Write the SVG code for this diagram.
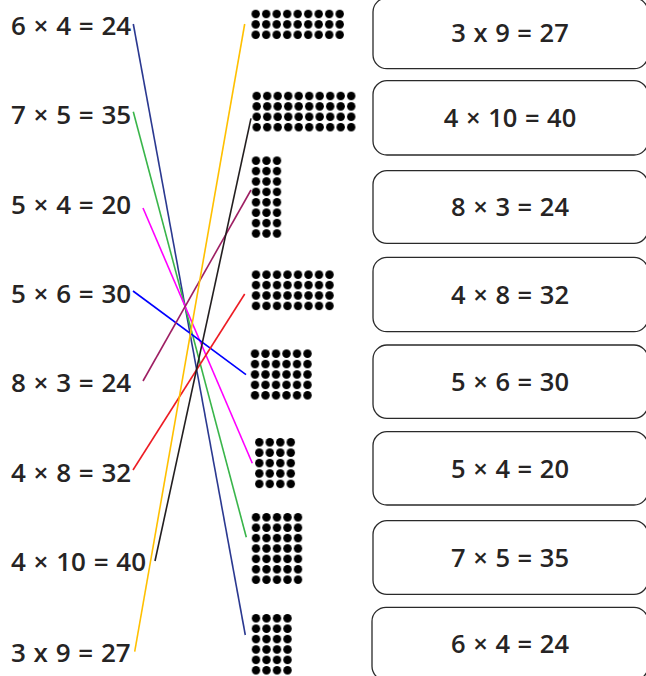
<svg xmlns="http://www.w3.org/2000/svg" width="646" height="676" viewBox="0 0 646 676">
<style>
.t{font-family:"Open Sans","Noto Sans","Liberation Sans",sans-serif;font-size:26px;font-weight:600;fill:#262424;word-spacing:1px}
.bt{text-anchor:middle;font-size:25.5px}
.box{fill:#fff;stroke:#2a2a2a;stroke-width:1.3}
.ln{fill:none;stroke-width:1.6}
</style>
<defs>
<pattern id="dot" patternUnits="userSpaceOnUse" x="0" y="0" width="10.5" height="10.4">
<circle cx="5.25" cy="5.2" r="4.2" fill="#000"/>
</pattern>
</defs>
<rect width="646" height="676" fill="#fff"/>
<g id="left-labels">
<text class="t" x="11" y="34.5">6 × 4 = 24</text>
<text class="t" x="11" y="124">7 × 5 = 35</text>
<text class="t" x="11" y="214">5 × 4 = 20</text>
<text class="t" x="11" y="302.5">5 × 6 = 30</text>
<text class="t" x="11" y="392">8 × 3 = 24</text>
<text class="t" x="11" y="481.5">4 × 8 = 32</text>
<text class="t" x="11" y="571">4 × 10 = 40</text>
<text class="t" x="11" y="661.5">3 x 9 = 27</text>
</g>
<g id="arrays">
<g id="a1" transform="translate(250.45,8.8)"><rect width="94.5" height="31.2" fill="url(#dot)"/></g>
<g id="a2" transform="translate(251.45,90.8)"><rect width="105" height="41.6" fill="url(#dot)"/></g>
<g id="a3" transform="translate(250.75,155.5)"><rect width="31.5" height="83.2" fill="url(#dot)"/></g>
<g id="a4" transform="translate(250.75,269.5)"><rect width="84" height="41.6" fill="url(#dot)"/></g>
<g id="a5" transform="translate(249.75,348.5)"><rect width="63" height="52" fill="url(#dot)"/></g>
<g id="a6" transform="translate(254.05,437.1)"><rect width="42" height="52" fill="url(#dot)"/></g>
<g id="a7" transform="translate(250.75,512.1)"><rect width="52.5" height="72.8" fill="url(#dot)"/></g>
<g id="a8" transform="translate(250.75,613.1)"><rect width="42" height="62.4" fill="url(#dot)"/></g>
</g>
<g id="connectors">
<line class="ln" x1="133.3" y1="24" x2="245.3" y2="635" stroke="#2b3990"/>
<line class="ln" x1="133.3" y1="111.7" x2="246.3" y2="537.3" stroke="#39b54a"/>
<line class="ln" x1="143" y1="208" x2="252.3" y2="463.3" stroke="#ff00ff"/>
<line class="ln" x1="133" y1="291" x2="246" y2="374.7" stroke="#0000ff"/>
<line class="ln" x1="143" y1="381" x2="251" y2="190" stroke="#9e1f63"/>
<line class="ln" x1="133" y1="470" x2="244.7" y2="294" stroke="#ed1c24"/>
<line class="ln" x1="155" y1="561" x2="251" y2="118.3" stroke="#231f20"/>
<line class="ln" x1="134.7" y1="651.7" x2="244.7" y2="24" stroke="#ffc000"/>
</g>
<g id="b1"><rect class="box" x="373" y="-2" width="275" height="70.7" rx="14"/><text class="t bt" x="510" y="42">3 x 9 = 27</text></g>
<g id="b2"><rect class="box" x="373" y="80.7" width="275" height="74.3" rx="14"/><text class="t bt" x="510" y="127">4 × 10 = 40</text></g>
<g id="b3"><rect class="box" x="373" y="170.7" width="275" height="72.6" rx="14"/><text class="t bt" x="510" y="216">8 × 3 = 24</text></g>
<g id="b4"><rect class="box" x="373" y="257.3" width="275" height="74.4" rx="14"/><text class="t bt" x="510" y="303.5">4 × 8 = 32</text></g>
<g id="b5"><rect class="box" x="373" y="345" width="275" height="73.3" rx="14"/><text class="t bt" x="510" y="390.5">5 × 6 = 30</text></g>
<g id="b6"><rect class="box" x="373" y="431.7" width="275" height="73.3" rx="14"/><text class="t bt" x="510" y="477.5">5 × 4 = 20</text></g>
<g id="b7"><rect class="box" x="373" y="520.7" width="275" height="73.6" rx="14"/><text class="t bt" x="510" y="566.5">7 × 5 = 35</text></g>
<g id="b8"><rect class="box" x="372" y="607.3" width="276" height="73" rx="14"/><text class="t bt" x="510" y="652.5">6 × 4 = 24</text></g>
</svg>
